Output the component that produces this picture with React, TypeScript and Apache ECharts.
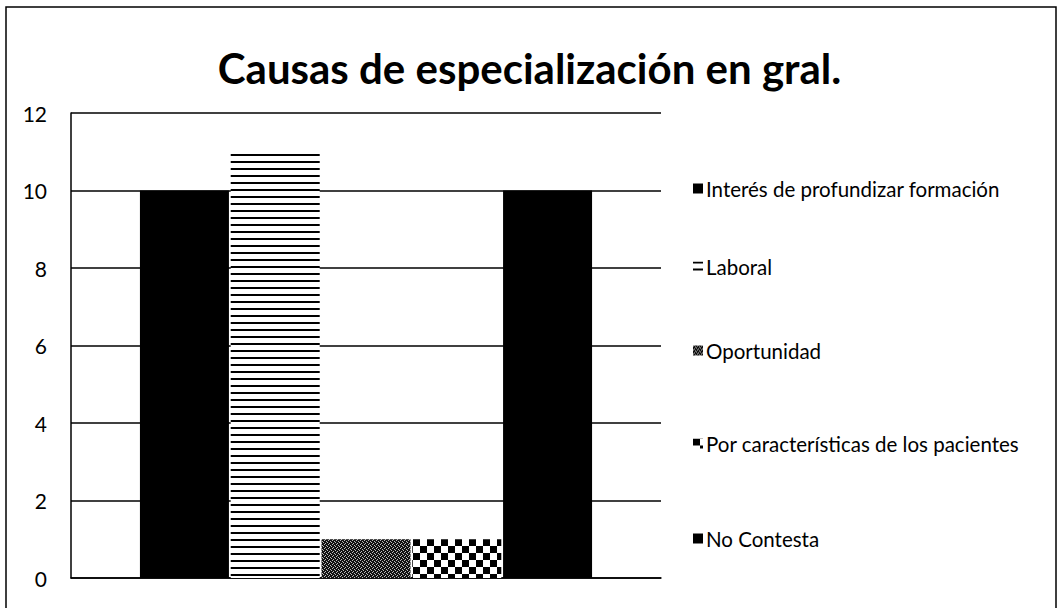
import React, { useEffect, useRef } from "react";
import * as echarts from "echarts";

const categories = ["Causas"];
const seriesNames = [
  "Interés de profundizar formación",
  "Laboral",
  "Oportunidad",
  "Por características de los pacientes",
  "No Contesta",
];
const seriesValues = [10, 11, 1, 1, 10];
const legendCenters = [185, 263, 347, 440, 535];

function makeTile(kind: string): HTMLCanvasElement {
  const c = document.createElement("canvas");
  const ctx = c.getContext("2d")!;
  if (kind === "stripes") {
    c.width = 8; c.height = 7;
    ctx.fillStyle = "#fff"; ctx.fillRect(0, 0, 8, 7);
    ctx.fillStyle = "#000"; ctx.fillRect(0, 0, 8, 2);
  } else if (kind === "dots") {
    c.width = 4; c.height = 4;
    ctx.fillStyle = "#111"; ctx.fillRect(0, 0, 4, 4);
    ctx.fillStyle = "#bbb";
    ctx.fillRect(0, 0, 1, 1); ctx.fillRect(2, 1, 1, 1); ctx.fillRect(1, 3, 1, 1); ctx.fillRect(3, 2, 1, 1);
  } else if (kind === "checker") {
    c.width = 14; c.height = 14;
    ctx.fillStyle = "#fff"; ctx.fillRect(0, 0, 14, 14);
    ctx.fillStyle = "#000"; ctx.fillRect(0, 0, 7, 7); ctx.fillRect(7, 7, 7, 7);
  } else {
    c.width = 4; c.height = 4;
    ctx.fillStyle = "#000"; ctx.fillRect(0, 0, 4, 4);
  }
  return c;
}

export default function App() {
  const ref = useRef<HTMLDivElement>(null);
  useEffect(() => {
    const chart = echarts.init(ref.current!, null, { renderer: "svg" });
    const fills: any[] = [
      "#000",
      { image: makeTile("stripes"), repeat: "repeat" },
      { image: makeTile("dots"), repeat: "repeat" },
      { image: makeTile("checker"), repeat: "repeat" },
      "#000",
    ];
    const font = "Lato, 'Open Sans', sans-serif";
    chart.setOption({
      animation: false,
      backgroundColor: "#fff",
      title: {
        text: "Causas de especialización en gral.",
        left: "center",
        top: 42,
        textStyle: { fontFamily: font, fontSize: 42, fontWeight: "bold", color: "#000" },
      },
      legend: seriesNames.map((n, i) => ({
        data: [n],
        orient: "vertical",
        left: 688,
        top: legendCenters[i] - 12,
        itemWidth: 10,
        itemHeight: 10,
        icon: "rect",
        selectedMode: false,
        textStyle: { fontFamily: font, fontSize: 20.5, color: "#000", padding: [0, 0, 0, -2] },
      })),
      graphic: [
        {
          type: "rect",
          shape: { x: 6, y: 7, width: 1050, height: 610 },
          style: { fill: "none", stroke: "#000", lineWidth: 1.5 },
          silent: true,
        },
      ],
      grid: { left: 71, right: 398, top: 113, bottom: 30 },
      xAxis: {
        type: "category",
        data: categories,
        axisLine: { lineStyle: { color: "#000", width: 1.5 } },
        axisTick: { show: false },
        axisLabel: { show: false },
      },
      yAxis: {
        type: "value",
        min: 0,
        max: 12,
        interval: 2,
        axisLine: { show: true, lineStyle: { color: "#000", width: 1.5 } },
        axisTick: { show: false },
        axisLabel: { fontFamily: font, fontSize: 21, color: "#000", margin: 24 },
        splitLine: { lineStyle: { color: "#000", width: 1.5 } },
      },
      series: seriesNames.map((n, i) => ({
        name: n,
        type: "bar",
        data: [seriesValues[i]],
        barWidth: 89,
        barGap: "2%",
        itemStyle: { color: fills[i] },
      })),
    });
    return () => chart.dispose();
  }, []);
  return <div ref={ref} style={{ position: "absolute", left: 0, top: 0, width: 1059, height: 608 }} />;
}
